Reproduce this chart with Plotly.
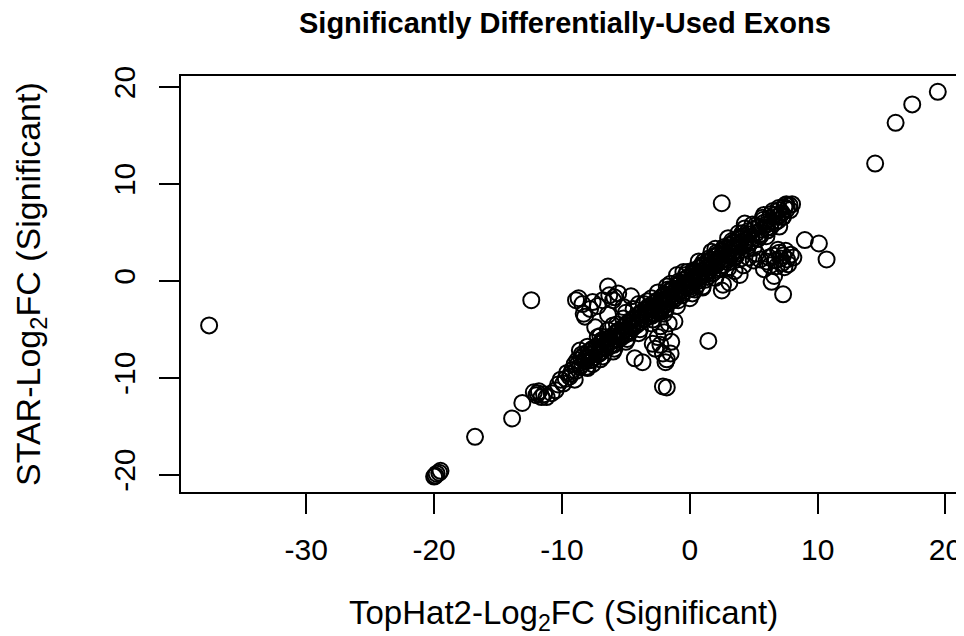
import plotly.graph_objects as go

# Outlying exons (TopHat2 log2FC, STAR log2FC)
outlier_tophat = [-37.6, 14.5, 16.1, 17.4, 19.4, 2.5, 9.0, 10.1, 10.7, 1.45, -12.4]
outlier_star = [-4.6, 12.1, 16.3, 18.2, 19.5, 8.0, 4.2, 3.85, 2.2, -6.2, -2.0]

# Low-end tail
tail_tophat = [-20.0, -19.9, -19.8, -19.6, -19.5, -16.8, -13.9, -13.1,
               -12.2, -12.0, -11.8, -11.6, -11.4, -11.2, -11.9]
tail_star = [-20.2, -20.1, -19.9, -19.8, -19.6, -16.1, -14.2, -12.6,
             -11.5, -11.8, -11.4, -12.0, -11.7, -12.0, -11.6]

# Main diagonal band
band_tophat = [
    -10.8, -10.5, -10.3, -10.1, -9.9, -9.6, -9.4, -9.2, -9.0, -8.9, -8.8, -8.6, -8.5, -8.4, -8.3,
    -8.2, -8.1, -8.0, -7.9, -7.8, -7.7, -7.6, -7.5, -7.4, -7.3, -7.2, -7.1, -7.0, -6.9, -6.8,
    -6.7, -6.6, -6.5, -6.4, -6.3, -6.2, -6.1, -6.0, -5.9, -5.8, -5.7, -5.6, -5.5, -5.4, -5.3,
    -5.2, -5.1, -5.0, -4.9, -4.8, -4.7, -4.6, -4.5, -4.4, -4.3, -4.2, -4.1, -4.0, -3.9, -3.8,
    -3.7, -3.6, -3.5, -3.4, -3.3, -3.2, -3.1, -3.0, -2.9, -2.8, -2.7, -2.6, -2.5, -2.4, -2.3,
    -2.2, -2.1, -2.0, -1.9, -1.8, -1.7, -1.6, -1.5, -1.4, -1.3, -1.2, -1.1, -1.0, -0.9, -0.8,
    -0.7, -0.6, -0.5, -0.4, -0.3, -0.2, -0.1, 0.0, 0.1, 0.2, 0.3, 0.4, 0.5, 0.6, 0.7,
    0.8, 0.9, 1.0, 1.1, 1.2, 1.3, 1.4, 1.5, 1.6, 1.7, 1.8, 1.9, 2.0, 2.1, 2.2,
    2.3, 2.4, 2.5, 2.6, 2.7, 2.8, 2.9, 3.0, 3.1, 3.2, 3.3, 3.4, 3.5, 3.6, 3.7,
    3.8, 3.9, 4.0, 4.2, 4.4, 4.6, 4.8, 5.0, 5.2, 5.4, 5.6, 5.8, 6.0, 6.2, 6.4,
    6.6, 6.8, 7.0, 7.2, 7.4, 7.6, 7.8, 8.0, 7.5, 7.1,
    -2.8, -2.2, -1.7, -1.3, -0.9, -0.6, -0.3, 0.1, 0.3, 0.6, 0.9, 1.2, 1.5, 1.8, 2.1,
    2.4, 2.7, 3.0, 3.3, 3.6, 4.1, 4.5, 4.9, 5.3, 5.7, 6.1, 6.5, 6.9, 3.8, 4.3,
    2.0, -1.0, -2.5, -4.4, -3.6, -5.2, -6.4, -7.0, -5.7, -8.0, -7.6, -6.8, -5.9, -4.9, -3.9,
    -2.9, -1.9, -0.9, 0.2, 1.4, 2.6, 3.4, 4.7, 5.5, 6.3, 7.3, 1.1, -0.2, -1.5, -3.3,
    -9.7, -9.3, -8.7, -8.45, -8.15, -7.85, -7.65, -7.35, -7.05, -6.85, -6.55, -6.25, -5.95, -5.65, -5.35,
    -5.05, -4.75, -4.45, -4.15, -3.85, -3.55, -3.25, -2.95, -2.65, -2.35, -2.05, -1.75, -1.45, -1.15, -0.85,
    -0.55, -0.25, 0.05, 0.35, 0.65, 0.95, 1.25, 1.55, 1.85, 2.15, 2.45, 2.75, 3.05, 3.35, 3.65,
    3.95, 4.25, 4.55, 4.85, 5.15, 5.45, 5.75, 6.05, 6.35, 6.65, 6.95, 7.25, 7.55, 7.85, 4.3,
    5.8, 3.0, 1.7, 0.7, -0.5, -1.8, -3.0, -4.0, -5.0, -6.0, -7.2, -8.6, -9.0, -8.0, -7.0,
    -6.0, -5.0, -4.0, -3.0, -2.0, -1.0, 0.0, 1.0, 2.0, 3.0, 4.0, 5.0, 6.0, 7.0,
]
band_star = [
    -11.6, -11.3, -10.7, -10.2, -10.6, -9.5, -9.9, -9.2, -8.6, -9.3, -8.2, -8.9, -8.0, -8.6, -7.7,
    -8.3, -8.9, -7.9, -7.3, -8.2, -7.6, -7.0, -7.9, -7.3, -6.8, -7.6, -7.1, -6.5, -7.3, -6.8,
    -6.2, -7.0, -6.6, -6.0, -6.8, -6.3, -5.7, -6.5, -6.0, -5.4, -6.1, -5.7, -5.1, -5.9, -5.3,
    -4.8, -5.6, -5.0, -4.4, -5.2, -4.7, -4.1, -4.9, -4.4, -3.8, -4.6, -4.1, -3.5, -4.3, -3.8,
    -3.2, -4.0, -3.5, -2.9, -3.7, -3.2, -2.6, -3.4, -2.9, -2.3, -3.1, -2.6, -2.0, -2.8, -2.3,
    -1.7, -2.5, -2.0, -1.4, -2.2, -1.7, -1.1, -1.9, -1.4, -0.8, -1.6, -1.1, -0.5, -1.3, -0.8,
    -0.2, -1.0, -0.5, 0.1, -0.7, -0.2, 0.4, -0.4, 0.1, 0.7, -0.1, 0.4, 1.0, 0.2, 0.7,
    1.3, 0.5, 1.0, 1.6, 0.8, 1.3, 1.9, 1.1, 1.6, 2.2, 1.4, 1.9, 2.5, 1.7, 2.2,
    2.8, 2.0, 2.5, 3.1, 2.3, 2.8, 3.4, 2.6, 3.1, 3.7, 2.9, 3.4, 4.0, 3.2, 3.7,
    4.3, 3.5, 4.0, 4.6, 4.2, 4.8, 4.5, 5.3, 4.9, 5.6, 5.3, 6.0, 5.8, 6.4, 6.1,
    6.8, 6.6, 7.3, 7.0, 7.6, 7.4, 7.8, 7.9, 7.8, 6.8,
    -3.4, -2.9, -0.9, -2.0, -0.1, -1.5, 0.6, -0.8, 1.1, -0.4, 1.6, 0.1, 2.3, 0.8, 2.9,
    1.3, 3.5, 1.9, 4.1, 2.5, 4.9, 3.3, 5.8, 4.3, 6.5, 5.2, 7.2, 6.2, 4.9, 5.4,
    3.3, 0.6, -1.2, -2.9, -2.4, -3.9, -5.1, -5.7, -4.5, -6.8, -8.6, -7.8, -7.0, -6.0, -5.0,
    -4.0, -3.0, -2.0, -1.3, 0.4, 1.6, 2.4, 3.9, 4.6, 5.5, 6.6, 2.0, 0.9, -0.3, -2.1,
    -10.1, -9.6, -8.5, -7.6, -8.0, -7.6, -8.1, -6.9, -7.5, -6.1, -6.4, -5.9, -6.6, -5.2, -5.6,
    -4.6, -5.4, -4.0, -4.4, -3.3, -3.9, -2.7, -3.6, -2.2, -2.9, -1.5, -2.4, -0.9, -1.8, -0.3,
    -1.2, 0.3, -0.6, 0.9, 0.0, 1.5, 0.6, 2.1, 1.1, 2.7, 1.6, 3.3, 2.2, 3.9, 2.8,
    4.5, 3.6, 5.1, 4.1, 5.7, 4.8, 6.3, 5.5, 6.9, 6.0, 7.5, 6.6, 7.9, 7.3, 5.9,
    6.8, 4.4, 3.0, 2.0, 0.9, -0.6, -1.8, -2.4, -3.3, -4.6, -5.8, -7.2, -10.2, -9.0, -8.1,
    -7.3, -6.3, -5.4, -4.4, -3.4, -2.6, -1.8, -0.6, 0.3, 1.3, 2.3, 3.4, 4.6, 5.6,
]

# Off-diagonal groups
offdiag_tophat = [
    3.5, 4.2, 4.6, 5.0, 5.2, 3.1, 2.5, 2.6, 1.0, 0.4, 3.9,
    6.0, 6.3, 6.5, 6.7, 6.8, 7.0, 7.1, 7.2, 7.3, 7.5, 7.6, 7.7, 7.9, 8.1, 6.9, 6.2, 7.4,
    6.4, 6.6, 7.3, 5.5, 5.8,
    -8.7, -8.9, -8.4, -7.6, -7.2, -6.4, -6.0, -5.6, -5.9, -6.3, -8.3, -8.2, -6.4, -7.4,
    -6.8, -7.8, -4.6, -5.2,
    -4.3, -3.7, -2.9, -2.3, -1.65, -2.5, -1.45, -1.9, -2.1, -1.5, -2.3, -2.7, -2.0, -1.8,
    -2.1, -1.8, -2.3, -1.2,
]
offdiag_star = [
    1.0, 1.6, 2.4, 2.1, 2.8, -0.2, -1.0, -0.4, -0.7, -0.9, 0.6,
    2.0, 1.6, 2.6, 2.1, 1.5, 2.9, 2.3, 1.8, 2.6, 3.1, 2.2, 1.7, 2.7, 2.4, 3.2, 2.4, 1.4,
    -0.1, 0.5, -1.4, 2.2, 1.2,
    -1.8, -2.0, -2.4, -2.2, -2.6, -0.6, -2.0, -1.3, -1.7, -1.5, -3.4, -3.7, -3.5, -4.8,
    -2.0, -2.9, -1.6, -2.7,
    -8.0, -8.4, -6.5, -4.7, -4.4, -5.8, -6.3, -8.4, -7.5, -7.5, -6.6, -7.0, -5.3, -8.1,
    -10.9, -11.0, -3.2, -4.2,
]

tophat_lfc = outlier_tophat + tail_tophat + band_tophat + offdiag_tophat
star_lfc = outlier_star + tail_star + band_star + offdiag_star

x_ticks = [-30, -20, -10, 0, 10, 20]
x_tick_labels = ["-30", "-20", "-10", "0", "10", "20"]
y_ticks = [-20, -10, 0, 10, 20]
y_tick_labels = ["-20", "-10", "0", "10", "20"]

# page has an 8px body margin; figure is sized so the plot box lands where it should
OFF = 8
W, H = 964 - OFF, 636 - OFF
L, R, T = 181 - OFF, 0, 76 - OFF
PH = 416
B = H - T - PH
pw, ph = W - L - R, PH


def px(page_x):
    return (page_x - OFF - L) / pw


def py(page_y):
    return (T + PH - (page_y - OFF)) / ph


fig = go.Figure(go.Scatter(
    x=tophat_lfc, y=star_lfc, mode="markers",
    marker=dict(symbol="circle-open", size=16, color="black", line=dict(width=2, color="black")),
    showlegend=False, hoverinfo="x+y",
))

font_fam = "Liberation Sans, Arial, sans-serif"
axis_common = dict(
    showgrid=False, zeroline=False, showline=True, linecolor="black", linewidth=2,
    ticks="outside", ticklen=20, tickwidth=2, tickcolor="black",
    tickfont=dict(family=font_fam, size=30, color="black"),
)

fig.update_layout(
    width=W, height=H,
    margin=dict(l=L, r=R, t=T, b=B, autoexpand=False),
    paper_bgcolor="white", plot_bgcolor="white",
    xaxis=dict(range=[-39.8, 21.45], tickvals=x_ticks, ticktext=x_tick_labels, mirror=True,
               ticklabelstandoff=10, **axis_common),
    yaxis=dict(range=[-21.79, 21.13], tickvals=y_ticks, ticktext=y_tick_labels, mirror=False,
               tickangle=-90, ticklabelstandoff=12, **axis_common),
    annotations=[
        dict(text="<b>Significantly Differentially-Used Exons</b>", xref="paper", yref="paper",
             x=px(565), y=py(23), xanchor="center", yanchor="middle",
             showarrow=False, font=dict(family=font_fam, size=29, color="black")),
        dict(text="TopHat2-Log<sub>2</sub>FC (Significant)", xref="paper", yref="paper",
             x=px(563), y=py(615), xanchor="center", yanchor="middle",
             showarrow=False, font=dict(family=font_fam, size=33, color="black")),
        dict(text="STAR-Log<sub>2</sub>FC (Significant)", xref="paper", yref="paper",
             x=px(30), y=py(284), xanchor="center", yanchor="middle",
             textangle=-90, showarrow=False, font=dict(family=font_fam, size=34, color="black")),
    ],
)

fig.write_html("out.html")
